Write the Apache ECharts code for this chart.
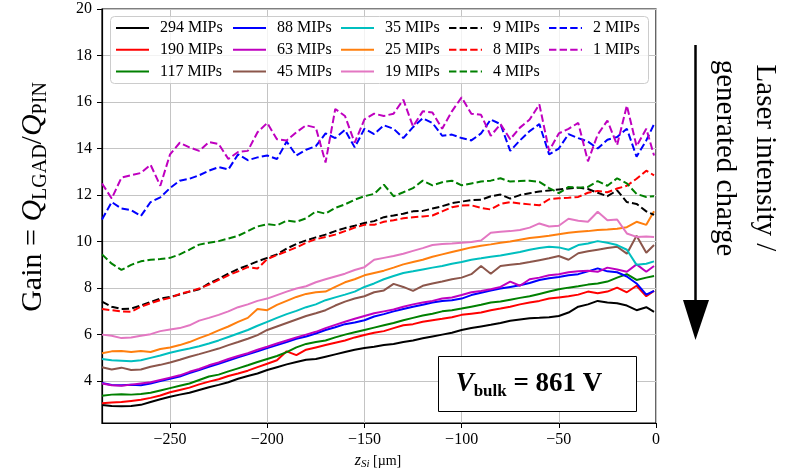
<!DOCTYPE html>
<html>
<head>
<meta charset="utf-8">
<script src="https://cdn.jsdelivr.net/npm/echarts@6/dist/echarts.min.js"></script>
<style>
html, body { margin: 0; padding: 0; background: #fff; }
#chart { width: 789px; height: 472px; }
</style>
</head>
<body>
<div id="chart"></div>
<script>
// Scan positions along the silicon depth (µm)
const zPositions = [-285,-280,-275,-270,-265,-260,-255,-250,-245,-240,
  -235,-230,-225,-220,-215,-210,-205,-200,-195,-190,
  -185,-180,-175,-170,-165,-160,-155,-150,-145,-140,
  -135,-130,-125,-120,-115,-110,-105,-100,-95,-90,
  -85,-80,-75,-70,-65,-60,-55,-50,-45,-40,
  -35,-30,-25,-20,-15,-10,-5,-1];

// Gain for each laser intensity (in MIPs)
const gain294 = [2.97,2.93,2.92,2.93,2.98,3.10,3.22,3.33,3.42,3.50,
  3.62,3.74,3.84,3.95,4.10,4.22,4.33,4.48,4.60,4.72,
  4.82,4.92,4.95,5.05,5.15,5.25,5.35,5.42,5.48,5.55,
  5.60,5.68,5.75,5.84,5.92,6.00,6.08,6.20,6.28,6.35,
  6.42,6.50,6.60,6.65,6.70,6.72,6.75,6.80,6.95,7.20,
  7.30,7.45,7.38,7.35,7.25,7.05,7.18,6.98];
const gain190 = [3.05,3.08,3.10,3.15,3.20,3.28,3.38,3.52,3.62,3.72,
  3.86,3.98,4.08,4.22,4.33,4.45,4.60,4.75,4.90,5.28,
  5.12,5.35,5.45,5.55,5.65,5.75,5.88,5.98,6.08,6.15,
  6.28,6.40,6.45,6.55,6.62,6.68,6.75,6.85,6.90,6.95,
  7.05,7.12,7.20,7.30,7.38,7.45,7.55,7.60,7.65,7.72,
  7.85,7.78,7.85,8.02,7.82,8.10,7.65,7.88];
const gain117 = [3.37,3.42,3.44,3.42,3.45,3.50,3.60,3.70,3.80,3.90,
  4.05,4.20,4.28,4.42,4.55,4.68,4.82,4.95,5.08,5.25,
  5.45,5.60,5.68,5.75,5.88,6.00,6.10,6.20,6.30,6.40,
  6.50,6.62,6.72,6.82,6.90,7.00,7.05,7.12,7.20,7.28,
  7.38,7.42,7.50,7.58,7.65,7.75,7.85,7.95,8.02,8.08,
  8.15,8.20,8.28,8.45,8.60,8.35,8.45,8.52];
const gain88 = [3.92,3.83,3.82,3.84,3.82,3.90,4.00,4.10,4.20,4.35,
  4.48,4.62,4.75,4.88,5.02,5.15,5.28,5.42,5.55,5.68,
  5.82,5.92,6.05,6.20,6.32,6.45,6.52,6.62,6.78,6.88,
  7.00,7.10,7.20,7.28,7.38,7.45,7.48,7.55,7.70,7.80,
  7.90,7.98,8.05,8.12,8.22,8.35,8.42,8.48,8.55,8.60,
  8.72,8.85,8.72,8.68,8.50,8.20,7.72,7.88];
const gain63 = [3.90,3.82,3.80,3.85,3.90,3.95,4.05,4.15,4.25,4.40,
  4.52,4.68,4.80,4.95,5.08,5.20,5.35,5.48,5.62,5.75,
  5.88,6.00,6.12,6.28,6.42,6.55,6.68,6.80,6.92,7.00,
  7.08,7.20,7.30,7.38,7.45,7.55,7.60,7.70,7.82,7.88,
  7.95,8.05,8.28,8.10,8.38,8.45,8.55,8.60,8.68,8.72,
  8.75,8.70,8.88,8.80,8.70,9.02,8.70,8.95];
const gain45 = [4.60,4.50,4.58,4.48,4.50,4.62,4.70,4.80,4.92,5.05,
  5.16,5.28,5.40,5.55,5.68,5.82,5.98,6.20,6.35,6.50,
  6.65,6.80,6.92,7.05,7.25,7.42,7.55,7.65,7.82,7.90,
  8.18,8.05,7.88,8.10,8.20,8.28,8.38,8.45,8.60,8.95,
  8.62,8.95,9.00,9.05,9.12,9.20,9.28,9.38,9.22,9.50,
  9.58,9.65,9.72,9.78,9.48,10.25,9.52,9.85];
const gain35 = [4.95,4.90,4.88,4.86,4.90,5.00,5.10,5.22,5.32,5.40,
  5.50,5.62,5.75,5.90,6.05,6.20,6.38,6.55,6.72,6.88,
  7.02,7.18,7.30,7.48,7.60,7.72,7.85,8.05,8.20,8.38,
  8.52,8.65,8.72,8.80,8.88,8.95,9.05,9.12,9.22,9.28,
  9.35,9.40,9.48,9.55,9.65,9.72,9.78,9.75,9.65,9.85,
  9.92,10.02,9.95,9.85,9.65,9.00,9.05,9.15];
const gain25 = [5.20,5.28,5.30,5.25,5.30,5.25,5.38,5.45,5.55,5.68,
  5.85,6.00,6.18,6.35,6.55,6.72,7.10,7.05,7.28,7.45,
  7.62,7.75,7.82,7.85,8.05,8.25,8.38,8.55,8.65,8.75,
  8.88,9.02,9.12,9.22,9.35,9.45,9.55,9.65,9.75,9.82,
  9.88,9.95,10.00,10.08,10.15,10.20,10.25,10.32,10.38,10.42,
  10.45,10.50,10.52,10.55,10.62,10.85,10.72,11.30];
const gain19 = [6.00,5.95,5.85,5.88,5.95,6.02,6.15,6.22,6.28,6.40,
  6.60,6.72,6.85,7.00,7.18,7.30,7.45,7.55,7.70,7.85,
  7.98,8.08,8.25,8.38,8.50,8.62,8.78,8.90,9.22,9.30,
  9.38,9.48,9.60,9.72,9.85,9.90,9.92,9.95,9.98,10.05,
  10.38,10.42,10.45,10.50,10.60,10.78,10.65,10.68,10.98,10.90,
  10.85,11.28,10.92,10.95,10.35,10.20,10.22,10.20];
const gain9 = [7.42,7.20,7.10,7.12,7.25,7.40,7.55,7.62,7.72,7.85,
  7.95,8.20,8.40,8.62,8.82,8.98,9.15,9.30,9.45,9.70,
  9.90,10.05,10.18,10.30,10.45,10.58,10.68,10.80,10.88,11.05,
  11.12,11.20,11.30,11.32,11.42,11.52,11.65,11.72,11.78,11.80,
  11.95,12.02,11.85,12.00,12.08,12.15,12.20,12.24,12.28,12.32,
  12.26,12.10,11.95,12.20,11.70,11.62,11.30,11.15];
const gain8 = [7.10,7.05,7.00,6.98,7.20,7.35,7.48,7.58,7.75,7.85,
  7.98,8.15,8.35,8.55,8.72,8.90,8.84,9.25,9.42,9.58,
  9.75,9.95,10.10,10.20,10.30,10.45,10.60,10.72,10.72,10.85,
  10.92,11.00,11.05,11.08,11.12,11.30,11.48,11.55,11.56,11.45,
  11.38,11.62,11.70,11.64,11.60,11.56,11.82,11.86,11.88,11.92,
  12.10,12.18,12.12,12.28,12.40,12.70,13.05,12.85];
const gain4 = [9.45,9.05,8.78,9.00,9.15,9.22,9.25,9.30,9.45,9.65,
  9.87,9.95,10.02,10.13,10.25,10.45,10.65,10.75,10.70,10.90,
  10.85,11.00,11.30,11.20,11.45,11.60,11.80,11.95,12.05,12.45,
  11.95,12.12,12.30,12.62,12.42,12.55,12.62,12.42,12.50,12.58,
  12.62,12.72,12.58,12.60,12.62,12.57,12.30,12.08,12.35,12.32,
  12.35,12.60,12.40,12.72,12.50,12.05,11.92,11.95];
const gain2 = [10.95,11.70,11.42,11.35,11.10,11.70,11.90,12.30,12.62,12.70,
  12.85,13.05,13.20,13.10,13.75,13.50,13.62,13.70,13.55,14.30,
  13.70,13.95,14.10,14.65,14.45,14.80,14.05,14.85,14.62,15.00,
  14.85,14.45,14.92,15.30,15.10,14.55,14.60,14.45,14.35,14.65,
  15.25,15.05,13.90,14.35,14.75,15.05,13.75,14.00,14.62,14.45,
  14.30,14.00,14.38,14.50,14.85,13.65,14.35,15.05];
const gain1 = [12.50,11.85,12.75,12.85,12.95,13.30,12.40,13.75,14.25,14.05,
  13.90,14.28,14.20,13.55,13.85,13.90,14.70,15.10,14.40,14.35,
  14.70,15.00,14.90,13.40,15.70,15.40,14.25,15.25,15.50,15.40,
  15.50,16.10,14.95,15.60,15.55,14.85,15.60,16.20,15.50,15.45,
  14.55,15.05,14.40,14.90,15.25,15.90,13.90,14.65,14.85,15.10,
  13.45,14.60,15.20,14.15,15.85,14.10,14.85,13.70];

// Axis ticks
const zTicks = [-250, -200, -150, -100, -50, 0];
const gainTicks = [4, 6, 8, 10, 12, 14, 16, 18, 20];

// Series definitions: name, values, colour, dashed?
const curves = [
  ['294 MIPs', gain294, '#000000', false],
  ['190 MIPs', gain190, '#ff0000', false],
  ['117 MIPs', gain117, '#008000', false],
  ['88 MIPs',  gain88,  '#0000ff', false],
  ['63 MIPs',  gain63,  '#bf00bf', false],
  ['45 MIPs',  gain45,  '#8c564b', false],
  ['35 MIPs',  gain35,  '#00bfbf', false],
  ['25 MIPs',  gain25,  '#ff7f0e', false],
  ['19 MIPs',  gain19,  '#e377c2', false],
  ['9 MIPs',   gain9,   '#000000', true],
  ['8 MIPs',   gain8,   '#ff0000', true],
  ['4 MIPs',   gain4,   '#008000', true],
  ['2 MIPs',   gain2,   '#0000ff', true],
  ['1 MIPs',   gain1,   '#bf00bf', true]
];

const SERIF = "'Liberation Serif', 'DejaVu Serif', serif";

const series = curves.map(([name, vals, color, dashed]) => ({
  name: name,
  type: 'line',
  data: zPositions.map((z, i) => [z, vals[i]]),
  symbol: 'none',
  showSymbol: false,
  animation: false,
  z: 2,
  lineStyle: { color: color, width: 2, type: dashed ? [7.4, 3.2] : 'solid', cap: 'butt' },
  itemStyle: { color: color },
  emphasis: { disabled: true }
}));

// Legend laid out column by column
const legendColumns = [
  { left: 115, names: ['294 MIPs', '190 MIPs', '117 MIPs'] },
  { left: 232, names: ['88 MIPs', '63 MIPs', '45 MIPs'] },
  { left: 340, names: ['35 MIPs', '25 MIPs', '19 MIPs'] },
  { left: 448, names: ['9 MIPs', '8 MIPs', '4 MIPs'] },
  { left: 548, names: ['2 MIPs', '1 MIPs'] }
];
const legends = legendColumns.map(col => ({
  data: col.names,
  orient: 'vertical',
  left: col.left,
  top: 20,
  padding: 0,
  itemWidth: 33,
  itemHeight: 12,
  itemGap: 5.7,
  selectedMode: false,
  // line-only keys: hide the marker drawn in the middle of each key
  itemStyle: { opacity: 0, color: 'rgba(0,0,0,0)', borderWidth: 0 },
  textStyle: { fontFamily: SERIF, fontSize: 16, color: '#000', lineHeight: 16, padding: [0, 0, 0, 6] }
}));

const minusFmt = v => (v < 0 ? '\u2212' + Math.abs(v) : String(v));

const chart = echarts.init(document.getElementById('chart'), null, { renderer: 'canvas' });
chart.setOption({
  animation: false,
  backgroundColor: '#fff',
  grid: { left: 102, right: 133, top: 9, bottom: 49, show: true, borderColor: '#000', borderWidth: 1.2 },
  xAxis: {
    type: 'value', min: -285, max: 0,
    axisLine: { show: true, onZero: false, lineStyle: { color: '#000', width: 1.2 } },
    axisTick: { show: true, customValues: zTicks, length: 5, lineStyle: { color: '#000', width: 1 } },
    axisLabel: { customValues: zTicks, formatter: minusFmt, fontFamily: SERIF, fontSize: 16, color: '#000', margin: 9 },
    splitLine: { show: true, lineStyle: { color: '#c4c4c4', width: 1 } }
  },
  yAxis: {
    type: 'value', min: 2.2, max: 20,
    axisLine: { show: true, onZero: false, lineStyle: { color: '#000', width: 1.2 } },
    axisTick: { show: true, customValues: gainTicks, length: 5, lineStyle: { color: '#000', width: 1 } },
    axisLabel: { customValues: gainTicks, fontFamily: SERIF, fontSize: 16, color: '#000', margin: 10 },
    splitLine: { show: true, lineStyle: { color: '#c4c4c4', width: 1 } }
  },
  legend: legends,
  series: series,
  graphic: [
    // legend frame
    { type: 'rect', z: 3, silent: true,
      shape: { x: 110.5, y: 16.5, width: 538, height: 67, r: 4 },
      style: { fill: 'rgba(255,255,255,0.8)', stroke: '#cccccc', lineWidth: 1 } },
    // bias voltage box
    { type: 'rect', z: 10, silent: true,
      shape: { x: 438.5, y: 356.5, width: 198, height: 55 },
      style: { fill: '#fff', stroke: '#000', lineWidth: 1 } },
    { type: 'text', z: 11, silent: true, x: 529, y: 384,
      style: {
        text: '{v|V}{s|bulk}{n| = 861 V}',
        align: 'center', verticalAlign: 'middle',
        rich: {
          v: { fontFamily: SERIF, fontSize: 27, fontWeight: 'bold', fontStyle: 'italic', lineHeight: 32, fill: '#000' },
          s: { fontFamily: SERIF, fontSize: 17, fontWeight: 'bold', lineHeight: 17, verticalAlign: 'bottom', fill: '#000' },
          n: { fontFamily: SERIF, fontSize: 27, fontWeight: 'bold', lineHeight: 32, fill: '#000' }
        }
      } },
    // y-axis title
    { type: 'text', z: 11, silent: true, x: 33, y: 197, rotation: Math.PI / 2,
      style: {
        text: '{r|Gain = }{i|Q}{s|LGAD}{r|/}{i|Q}{s|PIN}',
        align: 'center', verticalAlign: 'middle',
        rich: {
          r: { fontFamily: SERIF, fontSize: 30, lineHeight: 36, fill: '#000' },
          i: { fontFamily: SERIF, fontSize: 30, fontStyle: 'italic', lineHeight: 36, fill: '#000' },
          s: { fontFamily: SERIF, fontSize: 20, lineHeight: 20, verticalAlign: 'bottom', fill: '#000' }
        }
      } },
    // x-axis title
    { type: 'text', z: 11, silent: true, x: 378, y: 461,
      style: {
        text: '{i|z}{s|Si}{r| [\u00b5m]}',
        align: 'center', verticalAlign: 'middle',
        rich: {
          i: { fontFamily: SERIF, fontSize: 16, fontStyle: 'italic', lineHeight: 18, fill: '#000' },
          s: { fontFamily: SERIF, fontSize: 11, fontStyle: 'italic', lineHeight: 11, verticalAlign: 'bottom', fill: '#000' },
          r: { fontFamily: SERIF, fontSize: 14, lineHeight: 18, fill: '#000' }
        }
      } },
    // intensity annotation
    { type: 'text', z: 11, silent: true, x: 745, y: 158, rotation: -Math.PI / 2,
      style: {
        text: 'Laser intensity /\ngenerated charge',
        align: 'center', verticalAlign: 'middle',
        fontFamily: SERIF, fontSize: 29, lineHeight: 40, fill: '#000'
      } },
    { type: 'line', z: 11, silent: true,
      shape: { x1: 695.5, y1: 45, x2: 695.5, y2: 305 },
      style: { stroke: '#000', lineWidth: 2.5 } },
    { type: 'polygon', z: 11, silent: true,
      shape: { points: [[683, 300], [709, 300], [695.5, 340]] },
      style: { fill: '#000' } }
  ]
});
</script>
</body>
</html>
